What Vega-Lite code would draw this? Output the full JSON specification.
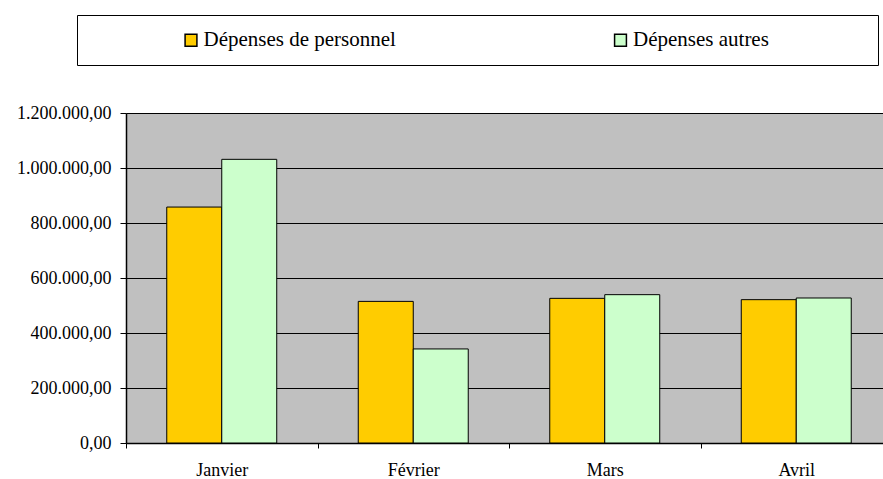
{
  "$schema": "https://vega.github.io/schema/vega-lite/v6.json",
  "width": 757,
  "height": 330,
  "autosize": {"type": "none"},
  "padding": {"left": 126, "top": 113, "right": 0, "bottom": 36},
  "background": "white",
  "data": {
    "values": [
      {"mois": "Janvier", "serie": "Dépenses de personnel", "montant": 858000},
      {"mois": "Janvier", "serie": "Dépenses autres", "montant": 1031500},
      {"mois": "Février", "serie": "Dépenses de personnel", "montant": 515000},
      {"mois": "Février", "serie": "Dépenses autres", "montant": 342000},
      {"mois": "Mars", "serie": "Dépenses de personnel", "montant": 526000},
      {"mois": "Mars", "serie": "Dépenses autres", "montant": 539400},
      {"mois": "Avril", "serie": "Dépenses de personnel", "montant": 521200},
      {"mois": "Avril", "serie": "Dépenses autres", "montant": 527300}
    ]
  },
  "mark": {"type": "bar", "stroke": "black", "strokeWidth": 1},
  "encoding": {
    "x": {
      "field": "mois",
      "type": "nominal",
      "sort": ["Janvier", "Février", "Mars", "Avril"],
      "scale": {"range": [0, 766], "paddingInner": 0.4256, "paddingOuter": 0.2128},
      "axis": {
        "title": null,
        "labelAngle": 0,
        "labelFont": "Liberation Serif",
        "labelFontSize": 18,
        "labelColor": "black",
        "labelPadding": 13,
        "tickSize": 5,
        "tickColor": "black",
        "tickOffset": -95.75,
        "labelOffset": 95.75,
        "domainColor": "black",
        "domainWidth": 1.5,
        "grid": false
      }
    },
    "xOffset": {
      "field": "serie",
      "type": "nominal",
      "scale": {"domain": ["Dépenses de personnel", "Dépenses autres"]}
    },
    "y": {
      "field": "montant",
      "type": "quantitative",
      "scale": {"domain": [0, 1200000], "nice": false},
      "axis": {
        "title": null,
        "values": [0, 200000, 400000, 600000, 800000, 1000000, 1200000],
        "format": ",.2f",
        "labelFont": "Liberation Serif",
        "labelFontSize": 18,
        "labelColor": "black",
        "labelPadding": 9,
        "tickSize": 6,
        "tickColor": "black",
        "domainColor": "black",
        "domainWidth": 1.5,
        "grid": true,
        "gridColor": "black",
        "gridWidth": 1,
        "gridOpacity": 1
      }
    },
    "fill": {
      "field": "serie",
      "type": "nominal",
      "scale": {
        "domain": ["Dépenses de personnel", "Dépenses autres"],
        "range": ["#FFCC00", "#CCFFCC"]
      },
      "legend": {
        "title": " ",
        "titleFontSize": 1,
        "titleOrient": "right",
        "titlePadding": 95,
        "orient": "none",
        "legendX": -49,
        "legendY": -98,
        "direction": "horizontal",
        "fillColor": "white",
        "strokeColor": "black",
        "padding": 14.5,
        "labelFont": "Liberation Serif",
        "labelFontSize": 21,
        "labelColor": "black",
        "labelLimit": 400,
        "symbolType": "square",
        "symbolSize": 140,
        "symbolStrokeColor": "black",
        "symbolStrokeWidth": 1.5,
        "symbolOpacity": 1,
        "symbolOffset": 89,
        "labelOffset": 2,
        "columnPadding": 124.5
      }
    }
  },
  "config": {
    "locale": {
      "number": {"decimal": ",", "thousands": ".", "grouping": [3], "currency": ["", " €"]}
    },
    "view": {"fill": "#C0C0C0", "stroke": null}
  }
}
